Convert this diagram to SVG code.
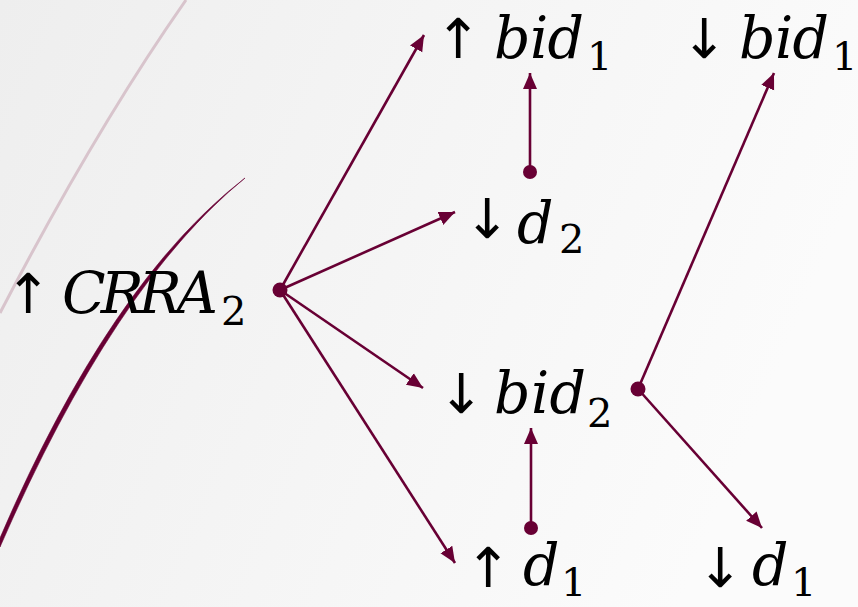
<svg xmlns="http://www.w3.org/2000/svg" width="858" height="607" viewBox="0 0 858 607">
<defs>
<linearGradient id="bg" x1="0" y1="0" x2="1" y2="0.3">
<stop offset="0" stop-color="#eeeeee"/>
<stop offset="1" stop-color="#fbfbfb"/>
</linearGradient>
<marker id="ah" markerUnits="userSpaceOnUse" markerWidth="18" markerHeight="16" viewBox="0 0 18 16" refX="16" refY="8" orient="auto">
<path d="M0,1 L16,8 L0,15 Z" fill="#680034"/>
</marker>
<style>
.ln{stroke:#680034;stroke-width:2.6;fill:none;marker-end:url(#ah)}
.dot{fill:#680034}
.arr{font-family:"DejaVu Sans",sans-serif;font-size:55px;fill:#000;text-anchor:middle}
.it{font-family:"DejaVu Serif",serif;font-style:italic;font-size:57px;fill:#000}
.sub{font-family:"DejaVu Serif",serif;font-size:40px;fill:#000}
</style>
</defs>
<rect width="858" height="607" fill="url(#bg)"/>
<g id="decor">
<path d="M186,0 Q95,130 0,313" stroke="#d8c4cc" stroke-width="3" fill="none"/>
<path d="M245,178 Q110,282 0,538 L0,547 Q114,285 245,178 Z" fill="#680034" stroke="#680034" stroke-width="0.6"/>
</g>
<g id="connectors">
<line class="ln" x1="280" y1="290" x2="424" y2="35"/>
<line class="ln" x1="280" y1="290" x2="455" y2="212"/>
<line class="ln" x1="280" y1="290" x2="423" y2="388"/>
<line class="ln" x1="280" y1="290" x2="455" y2="563"/>
<line class="ln" x1="530" y1="172" x2="530" y2="73"/>
<line class="ln" x1="531" y1="528" x2="531" y2="428"/>
<line class="ln" x1="638" y1="389" x2="774" y2="73"/>
<line class="ln" x1="638" y1="389" x2="762" y2="528"/>
<circle class="dot" cx="280" cy="290" r="7.5"/>
<circle class="dot" cx="530" cy="172" r="7"/>
<circle class="dot" cx="531" cy="528" r="7"/>
<circle class="dot" cx="638" cy="389" r="7.5"/>
</g>
<g id="n-up-bid1">
<text class="arr" x="458" y="58">↑</text>
<text class="it" x="494" y="58" textLength="90">bid</text>
<text class="sub" x="587" y="70">1</text>
</g>
<g id="n-down-bid1">
<text class="arr" x="704" y="58">↓</text>
<text class="it" x="739" y="58" textLength="90">bid</text>
<text class="sub" x="832" y="70">1</text>
</g>
<g id="n-down-d2">
<text class="arr" x="487" y="238">↓</text>
<text class="it" x="517" y="243">d</text>
<text class="sub" x="559" y="253">2</text>
</g>
<g id="n-up-crra2">
<text class="arr" x="28" y="313">↑</text>
<text class="it" x="62" y="313" textLength="156">CRRA</text>
<text class="sub" x="221" y="325">2</text>
</g>
<g id="n-down-bid2">
<text class="arr" x="461" y="413">↓</text>
<text class="it" x="494" y="413" textLength="92">bid</text>
<text class="sub" x="587" y="427">2</text>
</g>
<g id="n-up-d1">
<text class="arr" x="488" y="587">↑</text>
<text class="it" x="523" y="585">d</text>
<text class="sub" x="561" y="596">1</text>
</g>
<g id="n-down-d1">
<text class="arr" x="720" y="587">↓</text>
<text class="it" x="752" y="585">d</text>
<text class="sub" x="791" y="596">1</text>
</g>
</svg>
